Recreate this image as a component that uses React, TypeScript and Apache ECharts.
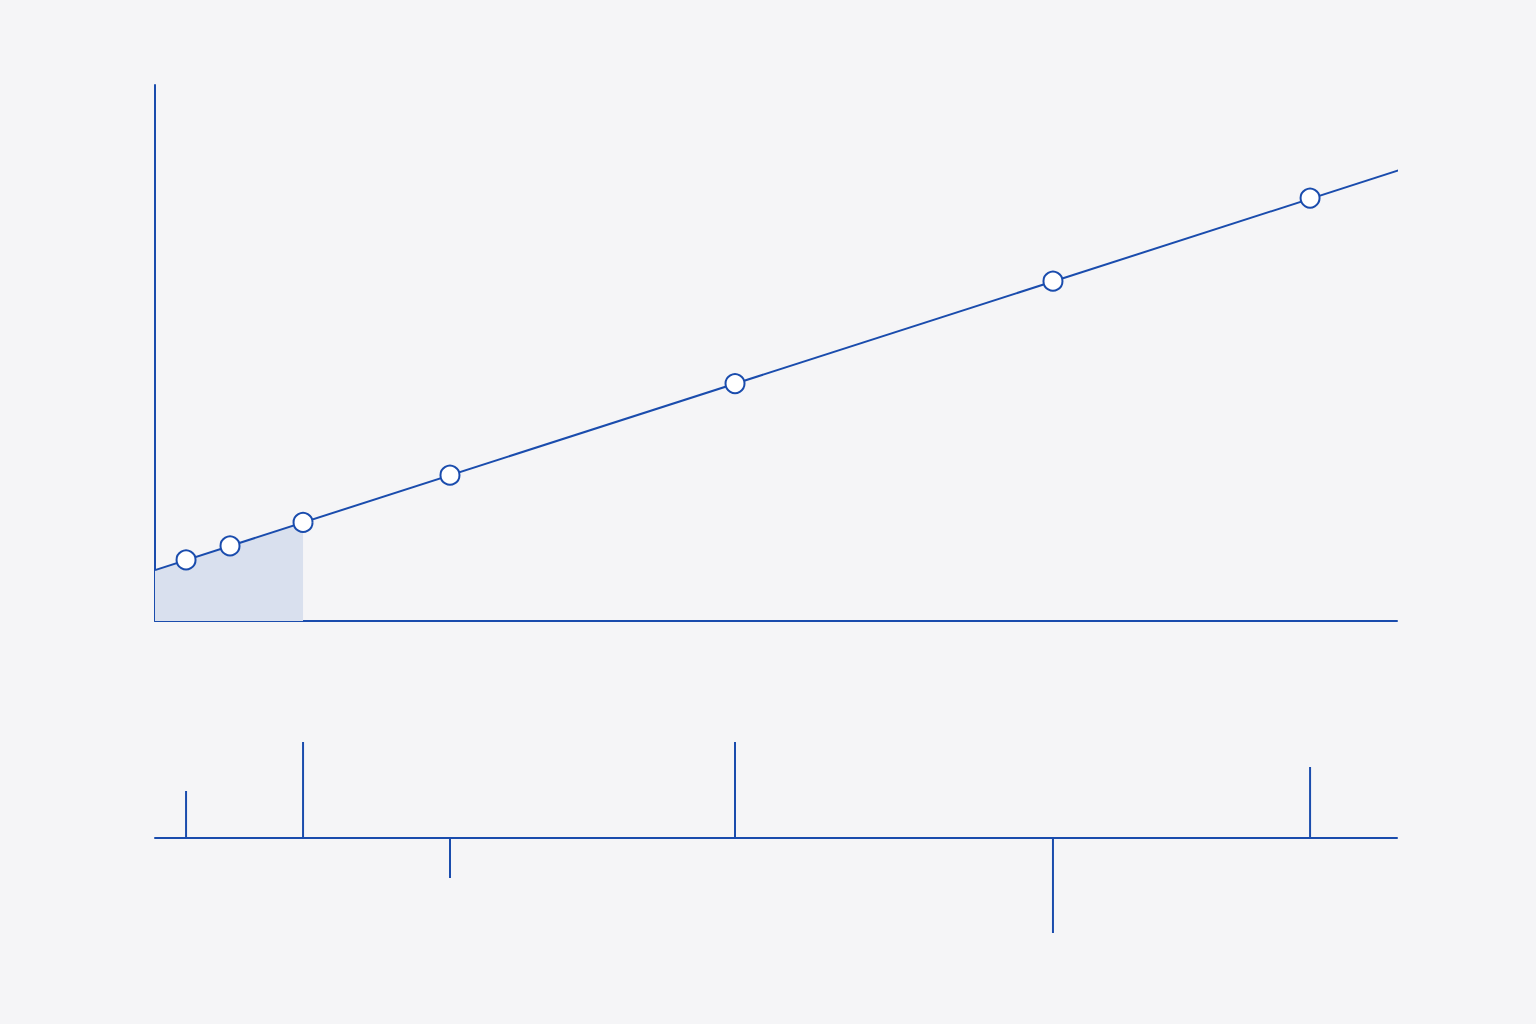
import { useEffect, useRef } from "react"
import * as echarts from "echarts"

// x positions of the sampled points (shared by both panels)
const xs = [2.5, 6.04, 11.92, 23.75, 46.7, 72.3, 93.0]
// y values of the points on the fitted line
const ys = [11.4, 14.0, 18.4, 27.2, 44.3, 63.4, 78.9]
// fitted line end points
const fitX = [0, 100.3]
const fitY = [9.5, 84.2]
// shaded region under the first segment
const shadeX = [0, 2.5, 6.04, 11.92]
const shadeY = [9.5, 11.4, 14.0, 18.4]
// stems in the lower panel (same x as points, 0 = no stem)
const stems = [47, 0, 96, -40, 96, -95, 71]

const BLUE = "#1a4cad"
const FILL = "#d9e0ee"
const BG = "#f5f5f7"

export default function App() {
  const chartRef = useRef<HTMLDivElement>(null)

  useEffect(() => {
    document.body.style.margin = "0"
    if (!chartRef.current) return
    const chart = echarts.init(chartRef.current, undefined, { renderer: "svg" })

    const hidden = {
      axisLabel: { show: false },
      axisTick: { show: false },
      splitLine: { show: false },
    }

    const option: echarts.EChartsOption = {
      animation: false,
      backgroundColor: BG,
      grid: [
        { left: 155, right: 139, top: 85, bottom: 403 },
        { left: 155, right: 139, top: 738, bottom: 86 },
      ],
      xAxis: [
        {
          type: "value",
          gridIndex: 0,
          min: 0,
          max: 100,
          axisLine: { show: true, lineStyle: { color: BLUE, width: 2 } },
          ...hidden,
        },
        {
          type: "value",
          gridIndex: 1,
          min: 0,
          max: 100,
          axisLine: { show: true, onZero: true, lineStyle: { color: BLUE, width: 2 } },
          ...hidden,
        },
      ],
      yAxis: [
        {
          type: "value",
          gridIndex: 0,
          min: 0,
          max: 100,
          axisLine: { show: true, lineStyle: { color: BLUE, width: 2 } },
          ...hidden,
        },
        {
          type: "value",
          gridIndex: 1,
          min: -100,
          max: 100,
          show: false,
          ...hidden,
        },
      ],
      series: [
        {
          type: "line",
          xAxisIndex: 0,
          yAxisIndex: 0,
          data: shadeX.map((x, i) => [x, shadeY[i]]),
          symbol: "none",
          lineStyle: { width: 0, opacity: 0 },
          areaStyle: { color: FILL, opacity: 1 },
          z: 1,
        },
        {
          type: "line",
          xAxisIndex: 0,
          yAxisIndex: 0,
          data: fitX.map((x, i) => [x, fitY[i]]),
          symbol: "none",
          clip: false,
          lineStyle: { color: BLUE, width: 2 },
          z: 2,
        },
        {
          type: "scatter",
          xAxisIndex: 0,
          yAxisIndex: 0,
          data: xs.map((x, i) => [x, ys[i]]),
          symbol: "circle",
          symbolSize: 19,
          itemStyle: { color: "#ffffff", borderColor: BLUE, borderWidth: 2, opacity: 1 },
          z: 3,
        },
        {
          type: "bar",
          xAxisIndex: 1,
          yAxisIndex: 1,
          data: xs.map((x, i) => [x, stems[i]]),
          barWidth: 2,
          itemStyle: { color: BLUE },
        },
      ],
    }

    chart.setOption(option)
    return () => {
      chart.dispose()
    }
  }, [])

  return (
    <div
      ref={chartRef}
      style={{ position: "absolute", left: 0, top: 0, width: 1536, height: 1024 }}
    />
  )
}
